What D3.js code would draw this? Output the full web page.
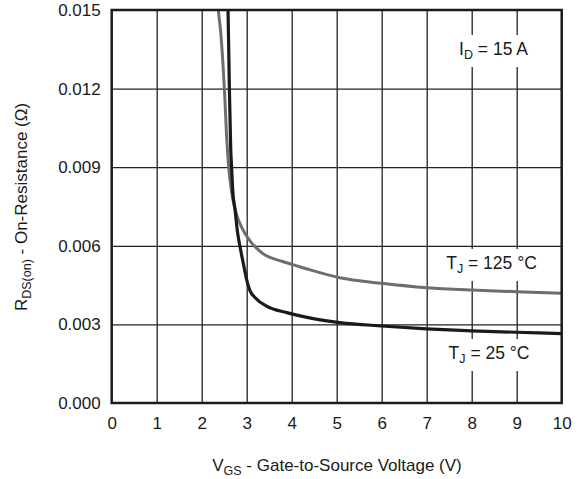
<!DOCTYPE html>
<html>
<head>
<meta charset="utf-8">
<script src="https://cdn.jsdelivr.net/npm/d3@7"></script>
<style>
  body { margin: 0; background: #fff; }
  text { font-family: "Liberation Sans", Arial, sans-serif; fill: #1a1a1a; }
</style>
</head>
<body>
<script>
// tick values
var xTicks = [0, 1, 2, 3, 4, 5, 6, 7, 8, 9, 10];
var yTicks = [0, 0.003, 0.006, 0.009, 0.012, 0.015];

// TJ = 25 C curve
var vgs25 = [2.57, 2.585, 2.615, 2.645, 2.665, 2.69, 2.74, 2.79, 2.87, 2.94, 3.0, 3.07, 3.2, 3.44, 3.89, 4.48, 5.07, 6, 7, 8, 9, 10];
var rds25 = [0.0155, 0.015, 0.012, 0.0097, 0.009, 0.0081, 0.0074, 0.0066, 0.0058, 0.0052, 0.0047, 0.0043, 0.004, 0.0037, 0.00345, 0.00322, 0.00307, 0.00294, 0.00283, 0.00275, 0.0027, 0.00265];

// TJ = 125 C curve
var vgs125 = [2.35, 2.37, 2.42, 2.47, 2.51, 2.55, 2.6, 2.66, 2.74, 2.92, 3.07, 3.36, 3.8, 4.18, 4.41, 5.07, 6, 7, 8, 9, 10];
var rds125 = [0.0155, 0.015, 0.0142, 0.013, 0.0118, 0.0103, 0.009, 0.0081, 0.0074, 0.0066, 0.0062, 0.0057, 0.0054, 0.0052, 0.00508, 0.00478, 0.00457, 0.0044, 0.00431, 0.00425, 0.00419];

var width = 582, height = 479;
var pLeft = 111.7, pRight = 561.7, pTop = 10, pBottom = 403;

var x = d3.scaleLinear().domain([0, 10]).range([pLeft, pRight]);
var y = d3.scaleLinear().domain([0, 0.015]).range([pBottom, pTop]);

var svg = d3.select("body").append("svg")
  .attr("width", width)
  .attr("height", height);

svg.append("defs").append("clipPath").attr("id", "plot")
  .append("rect")
  .attr("x", pLeft).attr("y", pTop)
  .attr("width", pRight - pLeft).attr("height", pBottom - pTop);

// grid
svg.append("g")
  .attr("transform", "translate(0," + pBottom + ")")
  .call(d3.axisBottom(x).tickValues(xTicks.slice(1, -1)).tickSize(-(pBottom - pTop)).tickFormat(""))
  .call(function(g) { g.select(".domain").remove(); })
  .selectAll("line").attr("stroke", "#222").attr("stroke-width", 1.3);

svg.append("g")
  .attr("transform", "translate(" + pLeft + ",0)")
  .call(d3.axisLeft(y).tickValues(yTicks.slice(1, -1)).tickSize(-(pRight - pLeft)).tickFormat(""))
  .call(function(g) { g.select(".domain").remove(); })
  .selectAll("line").attr("stroke", "#222").attr("stroke-width", 1.3);

// tick labels
var xAx = svg.append("g")
  .attr("transform", "translate(0," + pBottom + ")")
  .call(d3.axisBottom(x).tickValues(xTicks).tickSize(0).tickPadding(14).tickFormat(d3.format("d")));
xAx.select(".domain").remove();
xAx.selectAll("text").attr("font-size", 17).attr("font-family", "Liberation Sans, Arial, sans-serif").attr("fill", "#1a1a1a");

var yAx = svg.append("g")
  .attr("transform", "translate(" + pLeft + ",0)")
  .call(d3.axisLeft(y).tickValues(yTicks).tickSize(0).tickPadding(11).tickFormat(d3.format(".3f")));
yAx.select(".domain").remove();
yAx.selectAll("text").attr("font-size", 17).attr("font-family", "Liberation Sans, Arial, sans-serif").attr("fill", "#1a1a1a");

// labels with white boxes
function label(cx, base, main, sub, rest) {
  var g = svg.append("g");
  var bg = g.append("rect").attr("fill", "#fff");
  var t = g.append("text").attr("x", cx).attr("y", base)
    .attr("text-anchor", "middle").attr("font-size", 17.5);
  t.append("tspan").text(main);
  t.append("tspan").attr("font-size", 12.5).attr("dy", 4).text(sub);
  t.append("tspan").attr("dy", -4).text(rest);
  var b = t.node().getBBox();
  bg.attr("x", b.x - 4).attr("y", b.y - 4).attr("width", b.width + 8).attr("height", b.height + 9);
}
label(493.5, 55, "I", "D", " = 15 A");
label(491.5, 269, "T", "J", " = 125 \u00b0C");
label(489, 359, "T", "J", " = 25 \u00b0C");

// curves
var line = d3.line()
  .x(function(d) { return x(d[0]); })
  .y(function(d) { return y(d[1]); })
  .curve(d3.curveMonotoneX);

var curves = svg.append("g").attr("clip-path", "url(#plot)");
curves.append("path")
  .datum(vgs125.map(function(v, i) { return [v, rds125[i]]; }))
  .attr("d", line)
  .attr("fill", "none").attr("stroke", "#6e6e6e").attr("stroke-width", 3);
curves.append("path")
  .datum(vgs25.map(function(v, i) { return [v, rds25[i]]; }))
  .attr("d", line)
  .attr("fill", "none").attr("stroke", "#1a1a1a").attr("stroke-width", 3.2);

// frame
svg.append("rect")
  .attr("x", pLeft).attr("y", pTop)
  .attr("width", pRight - pLeft).attr("height", pBottom - pTop)
  .attr("fill", "none").attr("stroke", "#1a1a1a").attr("stroke-width", 2.5);

// axis titles
var xt = svg.append("text")
  .attr("x", 337).attr("y", 471)
  .attr("text-anchor", "middle").attr("font-size", 17);
xt.append("tspan").text("V");
xt.append("tspan").attr("font-size", 12.5).attr("dy", 4).text("GS");
xt.append("tspan").attr("dy", -4).text(" - Gate-to-Source Voltage (V)");

var yt = svg.append("text")
  .attr("transform", "translate(27,207) rotate(-90)")
  .attr("text-anchor", "middle").attr("font-size", 17);
yt.append("tspan").text("R");
yt.append("tspan").attr("font-size", 12.5).attr("dy", 4).text("DS(on)");
yt.append("tspan").attr("dy", -4).text(" - On-Resistance (\u03a9)");
</script>
</body>
</html>
